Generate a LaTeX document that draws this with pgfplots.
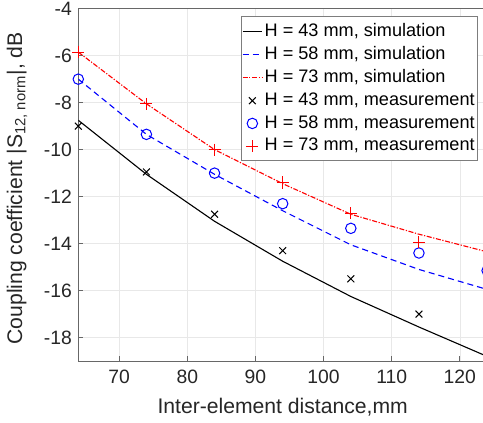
\documentclass[border=0pt]{standalone}
\usepackage{pgfplots}
\pgfplotsset{compat=1.18}
\usepackage{fontspec}
\setmainfont{Liberation Sans}
\definecolor{mblue}{rgb}{0,0,1}
\definecolor{mred}{rgb}{1,0,0}
\definecolor{axgray}{gray}{0.15}
\begin{document}
\begin{tikzpicture}
\begin{axis}[
  scale only axis,
  width=203pt, height=175pt,
  xmin=64, xmax=124, ymin=-19, ymax=-4,
  xtick={70,80,...,120}, ytick={-18,-16,...,-4},
  /pgf/number format/assume math mode=true,
  tick label style={font=\fontsize{9.6}{11}\selectfont, color=axgray, inner sep=1pt},
  yticklabel style={xshift=-2pt},
  xticklabel style={yshift=-3.2pt},
  label style={font=\fontsize{10.5}{12}\selectfont, color=axgray},
  xlabel={Inter-element distance,mm},
  ylabel={Coupling coefficient |S\textsubscript{12, norm}|, dB},
  xlabel style={at={(axis description cs:0.5,-0.13)}, anchor=center},
  ylabel style={at={(axis description cs:-0.15,0.49)}, anchor=center},
  grid=major,
  major grid style={gray!18, line width=0.3pt},
  axis line style={axgray!70, line width=0.4pt},
  tick style={axgray!70, line width=0.4pt},
  tick align=inside,
  major tick length=2.5pt,
  xtick pos=bottom, ytick pos=left,
  legend style={at={(0.978,0.978)}, anchor=north east,
    font=\fontsize{9.0}{10}\selectfont, draw=axgray!60, line width=0.4pt,
    nodes={inner xsep=1pt},
    inner xsep=0.5pt, inner ysep=1.2pt, row sep=-0.5pt, cells={anchor=west}},
  legend image code/.code={%
    \draw[mark repeat=2,mark phase=2] plot coordinates {(0cm,0cm) (0.17cm,0cm) (0.34cm,0cm)};},
  clip mode=individual,
]
\addplot[black, draw=black, line width=0.55pt] coordinates {
 (64,-8.75) (74,-11.05) (84,-13.05) (94,-14.75) (104,-16.25) (114,-17.55) (124,-18.8)};
\addlegendentry{H = 43 mm, simulation}
\addplot[mblue, draw=mblue, line width=0.55pt, dash pattern=on 3pt off 2pt] coordinates {
 (64,-7.0) (74,-9.35) (84,-11.05) (94,-12.6) (104,-14.05) (114,-15.1) (124,-15.95)};
\addlegendentry{H = 58 mm, simulation}
\addplot[mred, draw=mred, line width=0.55pt, dash pattern=on 2.5pt off 0.8pt on 0.6pt off 0.8pt] coordinates {
 (64,-5.85) (74,-8.05) (84,-10.0) (94,-11.45) (104,-12.75) (114,-13.6) (124,-14.35)};
\addlegendentry{H = 73 mm, simulation}
\addplot[only marks, black, draw=black, mark=x, mark size=2.4pt, line width=0.5pt] coordinates {
 (64,-9.0) (74,-10.95) (84,-12.75) (94,-14.3) (104,-15.5) (114,-17.0)};
\addlegendentry{H = 43 mm, measurement}
\addplot[only marks, mblue, draw=mblue, mark=o, mark size=2.6pt, line width=0.5pt] coordinates {
 (64,-7.0) (74,-9.35) (84,-11.0) (94,-12.3) (104,-13.35) (114,-14.4) (124,-15.15)};
\addlegendentry{H = 58 mm, measurement}
\addplot[only marks, mred, draw=mred, mark=+, mark size=3pt, line width=0.5pt] coordinates {
 (64,-5.85) (74,-8.05) (84,-10.0) (94,-11.4) (104,-12.7) (114,-13.95)};
\addlegendentry{H = 73 mm, measurement}
\coordinate (R) at (axis cs:123.4,-4);
\end{axis}
\coordinate (BL) at (current bounding box.south west);
\coordinate (TR) at (current bounding box.north east);
\pgfresetboundingbox
\useasboundingbox (BL) rectangle (R |- TR);
\end{tikzpicture}
\end{document}
